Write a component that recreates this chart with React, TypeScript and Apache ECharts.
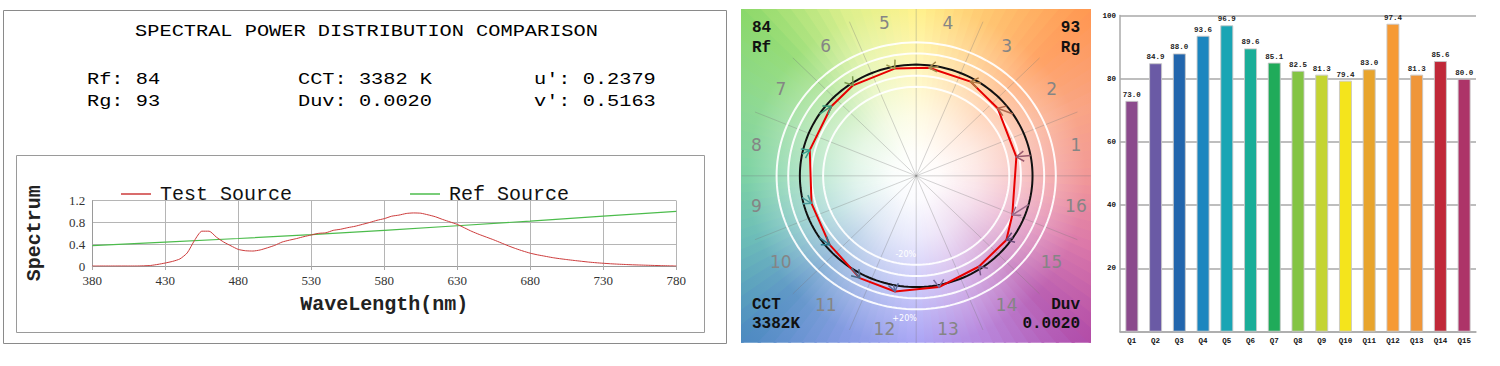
import React, { useEffect, useRef } from 'react';
import * as echarts from 'echarts';

// ---------------- Spectral power distribution ----------------
const wavelengths = [
  380, 385, 390, 395, 400, 405, 410, 415, 420, 425, 430, 435, 440, 445, 450, 455, 460, 465, 470, 475,
  480, 485, 490, 495, 500, 505, 510, 515, 520, 525, 530, 535, 540, 545, 550, 555, 560, 565, 570, 575,
  580, 585, 590, 595, 600, 605, 610, 615, 620, 625, 630, 635, 640, 645, 650, 655, 660, 665, 670, 675,
  680, 685, 690, 695, 700, 705, 710, 715, 720, 725, 730, 735, 740, 745, 750, 755, 760, 765, 770, 775, 780,
];
const testSource = [
  0, 0, 0, 0, 0, 0, 0, 0.003, 0.01, 0.03, 0.055, 0.085, 0.13, 0.24, 0.47, 0.64, 0.64, 0.53, 0.44, 0.37,
  0.305, 0.28, 0.275, 0.295, 0.335, 0.38, 0.44, 0.475, 0.505, 0.54, 0.57, 0.6, 0.61, 0.655, 0.675, 0.705, 0.73, 0.765, 0.8, 0.84,
  0.87, 0.915, 0.935, 0.965, 0.975, 0.97, 0.94, 0.905, 0.855, 0.81, 0.765, 0.7, 0.635, 0.58, 0.53, 0.48, 0.425, 0.37, 0.32, 0.275,
  0.235, 0.205, 0.18, 0.155, 0.135, 0.118, 0.102, 0.087, 0.072, 0.06, 0.05, 0.041, 0.034, 0.028, 0.022, 0.018, 0.014, 0.01, 0.006, 0.003, 0,
];
const refWavelengths = [380, 430, 480, 530, 580, 630, 680, 730, 780];
const refSource = [0.375, 0.44, 0.505, 0.575, 0.655, 0.74, 0.825, 0.915, 1.005];

const headerTitle = 'SPECTRAL POWER DISTRIBUTION COMPARISON';
const headerRow1 = ['Rf: 84', 'CCT: 3382 K', "u': 0.2379"];
const headerRow2 = ['Rg: 93', 'Duv: 0.0020', "v': 0.5163"];

// ---------------- Color vector graphic ----------------
const binNames = ['1', '2', '3', '4', '5', '6', '7', '8', '9', '10', '11', '12', '13', '14', '15', '16'];
const testX = [0.861, 0.7, 0.467, 0.11, -0.185, -0.543, -0.729, -0.915, -0.9, -0.743, -0.485, -0.182, 0.196, 0.54, 0.775, 0.826];
const testY = [0.171, 0.608, 0.847, 0.972, 0.964, 0.814, 0.626, 0.231, -0.247, -0.62, -0.919, -1.04, -1.0, -0.815, -0.576, -0.352];
const refAngle = [10.5, 33.75, 56.25, 79, 101.25, 123.75, 146.25, 168.75, -168.75, -146.25, -123.75, -101.25, -78.75, -56.25, -33.75, -15];
const arrowColors = [
  '#9a5a6e', '#b0684e', '#b07a40', '#a68a4e', '#9a9a50', '#7a9a50', '#3a9a7a', '#3aa08e',
  '#4a9a9a', '#2a7a8a', '#4a6a8a', '#5a6a9a', '#7a6a9a', '#7a5a8a', '#6a4a7a', '#9a6a8a',
];
const ringRadii = [0.8, 0.9, 1.1, 1.2];
const hueAnchors = [
  '#f08a8a', '#f89a78', '#ff9650', '#ffc060', '#fff07a', '#d8ee80', '#8ad868', '#80d488',
  '#6ccc98', '#5ab4b0', '#4a88c0', '#7890e0', '#9c98f4', '#b078d8', '#b04aa8', '#d86aa0',
];
const cornerTexts = { rf: '84', rfLabel: 'Rf', rg: '93', rgLabel: 'Rg', cct: 'CCT', cctValue: '3382K', duv: 'Duv', duvValue: '0.0020' };

// ---------------- Hue bin fidelity bars ----------------
const barCategories = ['Q1', 'Q2', 'Q3', 'Q4', 'Q5', 'Q6', 'Q7', 'Q8', 'Q9', 'Q10', 'Q11', 'Q12', 'Q13', 'Q14', 'Q15'];
const barValues = [73.0, 84.9, 88.0, 93.6, 96.9, 89.6, 85.1, 82.5, 81.3, 79.4, 83.0, 97.4, 81.3, 85.6, 80.0];
const barColors = [
  '#8b4a8c', '#6a5aa5', '#2266ad', '#1c86bf', '#1aa5b4', '#1aae98', '#20ab5a', '#84c444',
  '#c4d432', '#f4e41c', '#e8a42c', '#f69a34', '#ef9639', '#c02838', '#ad3468',
];

function hexToRgb(h: string) {
  const n = parseInt(h.slice(1), 16);
  return [(n >> 16) & 255, (n >> 8) & 255, n & 255];
}
function mixWhite(rgb: number[], t: number) {
  const c = rgb.map((v) => Math.round(255 + (v - 255) * t));
  return `rgb(${c[0]},${c[1]},${c[2]})`;
}
function hueAt(deg: number) {
  const d = ((deg % 360) + 360) % 360;
  const step = 360 / hueAnchors.length;
  const i = Math.floor(d / step);
  const f = (d - i * step) / step;
  const a = hexToRgb(hueAnchors[i % hueAnchors.length]);
  const b = hexToRgb(hueAnchors[(i + 1) % hueAnchors.length]);
  return a.map((v, k) => v + (b[k] - v) * f);
}

const MONO = 'Liberation Mono';

function buildOption(): any {
  const testData = wavelengths.map((w, i) => [w, testSource[i]]);
  const refData = refWavelengths.map((w, i) => [w, refSource[i]]);
  const polygonData = testX.map((x, i) => [x, testY[i]]);
  polygonData.push([testX[0], testY[0]]);
  const arrowData = refAngle.map((a, i) => {
    const r = (a * Math.PI) / 180;
    return [Math.cos(r), Math.sin(r), testX[i], testY[i]];
  });
  const labelData = binNames.map((_, i) => {
    const r = (((i + 0.5) * 22.5) * Math.PI) / 180;
    return [1.4 * Math.cos(r), 1.4 * Math.sin(r)];
  });

  const headerStyle = { fontFamily: MONO, fontSize: 16, fill: '#000' };
  const sx = 1.27;
  const headerCols = [87, 298, 534];
  const graphics: any[] = [
    { type: 'rect', shape: { x: 3.5, y: 10.5, width: 723, height: 333 }, style: { fill: 'none', stroke: '#8a8a8a', lineWidth: 1 }, z: 1 },
    { type: 'rect', shape: { x: 16.5, y: 155.5, width: 688, height: 177 }, style: { fill: 'none', stroke: '#9a9a9a', lineWidth: 1 }, z: 1 },
    { type: 'text', x: 366.5, y: 32, scaleX: sx, style: { ...headerStyle, text: headerTitle, textAlign: 'center', textVerticalAlign: 'middle', align: 'center', verticalAlign: 'middle' } },
  ];
  headerRow1.forEach((t, i) => graphics.push({ type: 'text', x: headerCols[i], y: 80, scaleX: sx, style: { ...headerStyle, text: t, textAlign: 'left', textVerticalAlign: 'middle', align: 'left', verticalAlign: 'middle' } }));
  headerRow2.forEach((t, i) => graphics.push({ type: 'text', x: headerCols[i], y: 102, scaleX: sx, style: { ...headerStyle, text: t, textAlign: 'left', textVerticalAlign: 'middle', align: 'left', verticalAlign: 'middle' } }));

  const cornerStyle = { fontFamily: MONO, fontSize: 16, fontWeight: 'bold', fill: '#111' };
  const corner = (text: string, x: number, y: number, al: string) => ({
    type: 'text', x, y, z: 50,
    style: { ...cornerStyle, text, textAlign: al, align: al, textVerticalAlign: 'middle', verticalAlign: 'middle' },
  });
  graphics.push(
    corner(cornerTexts.rf, 752, 27.5, 'left'),
    corner(cornerTexts.rfLabel, 752, 47.5, 'left'),
    corner(cornerTexts.rg, 1080, 27.5, 'right'),
    corner(cornerTexts.rgLabel, 1080, 47.5, 'right'),
    corner(cornerTexts.cct, 752, 305, 'left'),
    corner(cornerTexts.cctValue, 752, 324, 'left'),
    corner(cornerTexts.duv, 1080, 305, 'right'),
    corner(cornerTexts.duvValue, 1080, 324, 'right'),
  );

  const gridLineColor = '#b5b5b5';

  return {
    animation: false,
    backgroundColor: '#ffffff',
    graphic: graphics,
    legend: {
      data: [
        { name: 'Test Source', icon: 'rect' },
        { name: 'Ref Source', icon: 'rect' },
      ],
      left: 116,
      top: 179,
      itemWidth: 30,
      itemHeight: 1.5,
      itemGap: 118,
      textStyle: { fontFamily: MONO, fontSize: 20, color: '#111', padding: [0, 0, 0, 4] },
    },
    grid: [
      { left: 92.3, top: 200.7, width: 584, height: 65.3 },
      { left: 741.7, top: 9, width: 349, height: 333.7 },
      { left: 1120, top: 15.5, width: 356, height: 316.2 },
    ],
    xAxis: [
      {
        type: 'value', gridIndex: 0, min: 380, max: 780, interval: 50,
        axisLine: { show: true, lineStyle: { color: '#9a9a9a' } },
        axisTick: { show: true, length: 4, lineStyle: { color: '#aaa' } },
        axisLabel: { fontFamily: 'Liberation Serif', fontSize: 13, color: '#333', margin: 8 },
        splitLine: { show: true, lineStyle: { color: gridLineColor } },
        name: 'WaveLength(nm)', nameLocation: 'middle', nameGap: 28,
        nameTextStyle: { fontFamily: MONO, fontSize: 20, fontWeight: 'bold', color: '#222' },
      },
      { type: 'value', gridIndex: 1, min: -1.5, max: 1.5, show: false },
      {
        type: 'category', gridIndex: 2, data: barCategories,
        axisLine: { show: true, lineStyle: { color: '#aaa', width: 1.5 } },
        axisTick: { show: false },
        axisLabel: { fontFamily: MONO, fontWeight: 'bold', fontSize: 7.5, color: '#111', margin: 5 },
      },
    ],
    yAxis: [
      {
        type: 'value', gridIndex: 0, min: 0, max: 1.2, interval: 0.4,
        axisLine: { show: true, lineStyle: { color: '#9a9a9a' } },
        axisTick: { show: false },
        axisLabel: {
          fontFamily: 'Liberation Serif', fontSize: 13, color: '#333', margin: 7,
          formatter: (v: number) => (v === 0 ? '0' : v.toFixed(1)),
        },
        splitLine: { show: true, lineStyle: { color: gridLineColor } },
        name: 'Spectrum', nameLocation: 'middle', nameRotate: 90, nameGap: 48,
        nameTextStyle: { fontFamily: MONO, fontSize: 20, fontWeight: 'bold', color: '#222' },
      },
      { type: 'value', gridIndex: 1, min: -1.5, max: 1.5, show: false },
      {
        type: 'value', gridIndex: 2, min: 0, max: 100, interval: 20,
        axisLine: { show: true, lineStyle: { color: '#aaa', width: 1.5 } },
        axisTick: { show: false },
        axisLabel: {
          fontFamily: MONO, fontWeight: 'bold', fontSize: 7.5, color: '#111', margin: 4,
          formatter: (v: number) => (v === 0 ? '' : String(v)),
        },
        splitLine: { show: true, lineStyle: { color: '#a8a8a8', width: 1.5 } },
      },
    ],
    series: [
      {
        name: 'Test Source', type: 'line', xAxisIndex: 0, yAxisIndex: 0, data: testData,
        symbol: 'none', smooth: 0.2, color: '#cc3b3b', lineStyle: { width: 1, color: '#cc3b3b' }, z: 3,
      },
      {
        name: 'Ref Source', type: 'line', xAxisIndex: 0, yAxisIndex: 0, data: refData,
        symbol: 'none', color: '#4cbc4c', lineStyle: { width: 1.2, color: '#4cbc4c' }, z: 2,
      },
      // wheel background
      {
        type: 'custom', xAxisIndex: 1, yAxisIndex: 1, clip: true, silent: true, z: 0,
        data: [[0, 0]],
        renderItem: (params: any, api: any) => {
          const c = api.coord([0, 0]);
          const R = 242;
          const N = 120;
          const children: any[] = [];
          const stops = [
            [0, 0], [0.1, 0.04], [0.25, 0.2], [0.45, 0.5], [0.7, 0.88], [1, 1],
          ];
          for (let i = 0; i < N; i++) {
            const a0 = (i * 360) / N - 0.3;
            const a1 = ((i + 1) * 360) / N + 0.3;
            const am = (a0 + a1) / 2;
            const rgb = hueAt(am);
            const pts = [c];
            [a0, am, a1].forEach((a) => {
              const r = (a * Math.PI) / 180;
              pts.push(api.coord([2.6 * Math.cos(r), 2.6 * Math.sin(r)]));
            });
            children.push({
              type: 'polygon',
              shape: { points: pts },
              style: {
                fill: {
                  type: 'radial', x: c[0], y: c[1], r: R, global: true,
                  colorStops: stops.map((s) => ({ offset: s[0], color: mixWhite(rgb, s[1]) })),
                },
              },
            });
          }
          return { type: 'group', children };
        },
      },
      // rings and radial lines
      {
        type: 'custom', xAxisIndex: 1, yAxisIndex: 1, clip: true, silent: true, z: 1,
        data: [[0, 0]],
        renderItem: (params: any, api: any) => {
          const children: any[] = [];
          for (let k = 0; k < 8; k++) {
            const r = ((k * 22.5) * Math.PI) / 180;
            const p0 = api.coord([1.5 * Math.cos(r), 1.5 * Math.sin(r)]);
            const p1 = api.coord([-1.5 * Math.cos(r), -1.5 * Math.sin(r)]);
            children.push({
              type: 'line', shape: { x1: p0[0], y1: p0[1], x2: p1[0], y2: p1[1] },
              style: { stroke: 'rgba(120,120,120,0.4)', lineWidth: 0.8 },
            });
          }
          const circle = (rad: number) => {
            const pts: number[][] = [];
            for (let t = 0; t <= 180; t++) {
              const a = (t * 2 * Math.PI) / 180;
              pts.push(api.coord([rad * Math.cos(a), rad * Math.sin(a)]));
            }
            return pts;
          };
          ringRadii.forEach((rad) => {
            children.push({ type: 'polyline', shape: { points: circle(rad) }, style: { stroke: 'rgba(255,255,255,0.92)', lineWidth: 2, fill: 'none' } });
          });
          children.push({ type: 'polyline', shape: { points: circle(1) }, style: { stroke: '#111', lineWidth: 2, fill: 'none' } });
          const t1 = api.coord([-0.09, -0.71]);
          const t2 = api.coord([-0.1, -1.285]);
          [['-20%', t1], ['+20%', t2]].forEach(([txt, p]: any) => {
            children.push({
              type: 'text', x: p[0], y: p[1],
              style: { text: txt, fill: '#ffffff', fontFamily: 'DejaVu Sans', fontSize: 8, align: 'center', verticalAlign: 'middle', textAlign: 'center', textVerticalAlign: 'middle' },
            });
          });
          return { type: 'group', children };
        },
      },
      // test polygon
      {
        name: 'Test', type: 'line', xAxisIndex: 1, yAxisIndex: 1, data: polygonData,
        symbol: 'none', lineStyle: { color: '#e80000', width: 2 }, z: 4, silent: true,
      },
      // arrows
      {
        type: 'custom', xAxisIndex: 1, yAxisIndex: 1, silent: true, z: 5,
        data: arrowData,
        renderItem: (params: any, api: any) => {
          const i = params.dataIndex;
          const p0 = api.coord([api.value(0), api.value(1)]);
          const p1 = api.coord([api.value(2), api.value(3)]);
          let dx = p1[0] - p0[0];
          let dy = p1[1] - p0[1];
          let len = Math.hypot(dx, dy);
          if (len < 0.5) {
            const c = api.coord([0, 0]);
            dx = c[0] - p1[0];
            dy = c[1] - p1[1];
            len = Math.hypot(dx, dy);
          }
          const ux = dx / len;
          const uy = dy / len;
          const L = 9;
          const ang = 0.6;
          const w = (s: number) => {
            const cs = Math.cos(s * ang);
            const sn = Math.sin(s * ang);
            const rx = ux * cs - uy * sn;
            const ry = ux * sn + uy * cs;
            return [p1[0] - L * rx, p1[1] - L * ry];
          };
          const col = arrowColors[i];
          return {
            type: 'group',
            children: [
              { type: 'line', shape: { x1: p0[0], y1: p0[1], x2: p1[0], y2: p1[1] }, style: { stroke: col, lineWidth: 1.5 } },
              { type: 'polyline', shape: { points: [w(1), p1, w(-1)] }, style: { stroke: col, lineWidth: 1.5, fill: 'none' } },
            ],
          };
        },
      },
      // bin labels
      {
        type: 'custom', xAxisIndex: 1, yAxisIndex: 1, silent: true, z: 6,
        data: labelData,
        renderItem: (params: any, api: any) => {
          const p = api.coord([api.value(0), api.value(1)]);
          return {
            type: 'text', x: p[0], y: p[1],
            style: {
              text: binNames[params.dataIndex], fill: '#858585', fontFamily: 'DejaVu Sans', fontSize: 17,
              align: 'center', verticalAlign: 'middle', textAlign: 'center', textVerticalAlign: 'middle',
            },
          };
        },
      },
      // bars
      {
        name: 'Fidelity', type: 'bar', xAxisIndex: 2, yAxisIndex: 2, barWidth: 13,
        data: barValues.map((v, i) => ({ value: v, itemStyle: { color: barColors[i] } })),
        itemStyle: { borderColor: 'rgba(200,200,200,0.9)', borderWidth: 1 },
        label: {
          show: true, position: 'top', distance: 2,
          fontFamily: MONO, fontWeight: 'bold', fontSize: 7.5, color: '#222',
          formatter: (p: any) => Number(p.value).toFixed(1),
        },
      },
    ],
  };
}

export default function App() {
  const ref = useRef<HTMLDivElement>(null);
  useEffect(() => {
    document.body.style.margin = '0';
    const chart = echarts.init(ref.current as HTMLDivElement, null, { renderer: 'svg' });
    chart.setOption(buildOption());
    return () => chart.dispose();
  }, []);
  return <div ref={ref} style={{ width: 1500, height: 366 }} />;
}
